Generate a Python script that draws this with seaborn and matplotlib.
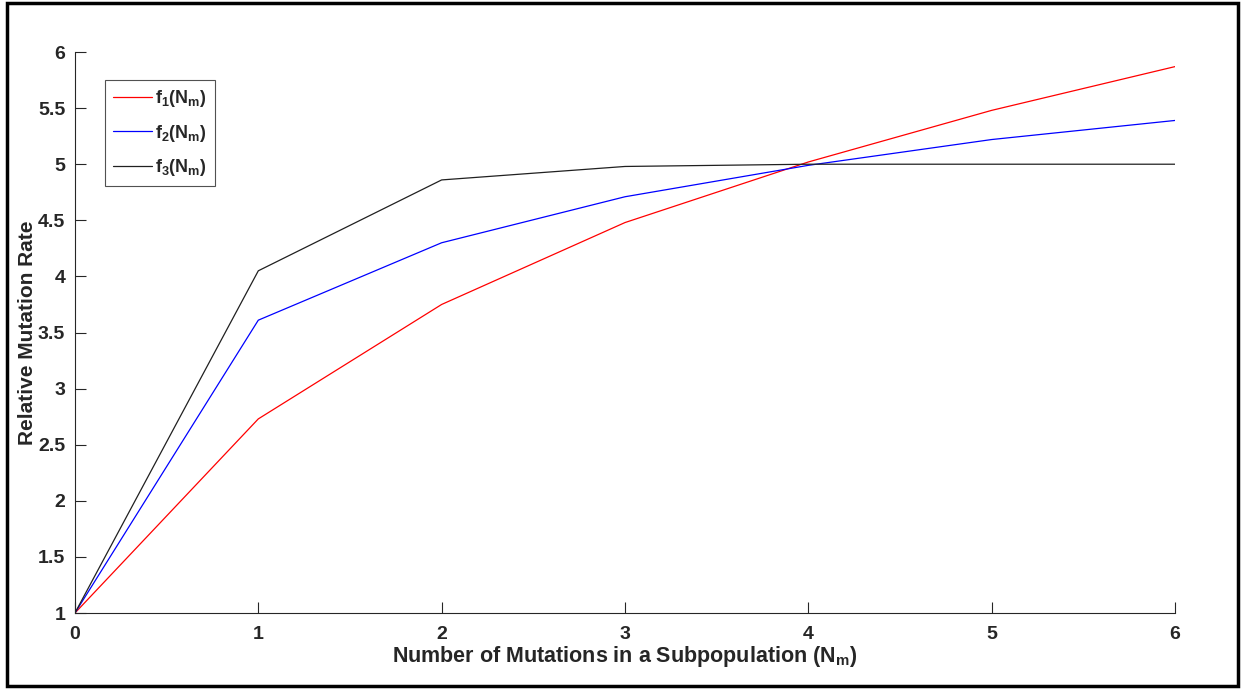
import pandas as pd
import seaborn as sns
import matplotlib.pyplot as plt
from matplotlib.patches import Rectangle

# valores
n_m = [0, 1, 2, 3, 4, 5, 6]
f1 = [1.0, 2.73, 3.75, 4.48, 5.02, 5.48, 5.87]
f2 = [1.0, 3.61, 4.30, 4.71, 4.99, 5.22, 5.39]
f3 = [1.0, 4.05, 4.86, 4.98, 5.0, 5.0, 5.0]
etiquetas = [r'$\mathbf{f_1(N_m)}$', r'$\mathbf{f_2(N_m)}$', r'$\mathbf{f_3(N_m)}$']
colores = ['#ff0000', '#0000ff', '#202020']

df = pd.DataFrame({
    'x': n_m * 3,
    'y': f1 + f2 + f3,
    'serie': [etiquetas[0]] * 7 + [etiquetas[1]] * 7 + [etiquetas[2]] * 7,
})

sns.set_theme(style="ticks")
plt.rcParams['font.family'] = ['Liberation Sans', 'DejaVu Sans']
plt.rcParams['mathtext.fontset'] = 'custom'
plt.rcParams['mathtext.bf'] = 'Liberation Sans:bold'
plt.rcParams['mathtext.rm'] = 'Liberation Sans'

fig = plt.figure(figsize=(12.45, 6.89), dpi=100)
ax = fig.add_axes([0.0602, 0.1103, 0.8836, 0.8142])

sns.lineplot(data=df, x='x', y='y', hue='serie', palette=colores, linewidth=0.9, ax=ax)

ax.set_xlim(0, 6)
ax.set_ylim(1, 6)
ax.set_xticks(range(0, 7))
ax.set_yticks([1, 1.5, 2, 2.5, 3, 3.5, 4, 4.5, 5, 5.5, 6])
ax.set_yticklabels(['1', '1.5', '2', '2.5', '3', '3.5', '4', '4.5', '5', '5.5', '6'])
ax.tick_params(direction='in', length=8, width=0.8, colors='#262626', labelsize=14)
ax.tick_params(axis='x', pad=9)
ax.tick_params(axis='y', pad=7)
for lbl in ax.get_xticklabels() + ax.get_yticklabels():
    lbl.set_fontweight('bold')
sns.despine(ax=ax)
for s in ['left', 'bottom']:
    ax.spines[s].set_color('#262626')
    ax.spines[s].set_linewidth(0.8)

ax.set_xlabel(r'Number of Mutations in a Subpopulation (N$_\mathbf{m}$)', fontsize=15.5, fontweight='bold', color='#262626', labelpad=1)
ax.set_ylabel('Relative Mutation Rate', fontsize=15, fontweight='bold', color='#262626', labelpad=0.5)

leg = ax.legend(loc='upper left', bbox_to_anchor=(0.027, 0.95), borderaxespad=0, fancybox=False,
                edgecolor='#262626', fontsize=13, handlelength=2.2, handletextpad=0.15,
                labelspacing=0.75, borderpad=0.45, title=None)
leg.get_frame().set_linewidth(0.8)

# borde exterior negro
fig.patches.append(Rectangle((0.006, 0.004), 0.988, 0.991, transform=fig.transFigure,
                             fill=False, edgecolor='black', linewidth=2.5))

plt.savefig('out.png', dpi=100)
plt.close()
